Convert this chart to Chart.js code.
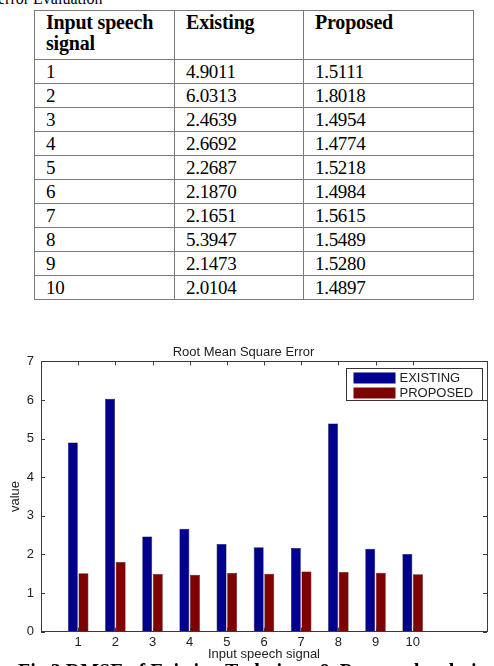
<!DOCTYPE html>
<html>
<head>
<meta charset="utf-8">
<script src="https://cdn.jsdelivr.net/npm/chart.js@4"></script>
<style>
    html, body { margin: 0; padding: 0; background: #fff; }
    body { width: 494px; height: 666px; position: relative; overflow: hidden; }
    .top-note { position: absolute; left: -2px; top: -10px; font: 16px "Liberation Serif", serif; line-height: 18px; white-space: nowrap; }
    table { position: absolute; left: 34px; top: 10px; width: 440px; border-collapse: collapse; font-family: "Liberation Serif", serif; }
    td, th { border: 1.5px solid #7a7a7a; text-align: left; padding: 0 0 0 11px; }
    th { font-size: 20px; font-weight: bold; line-height: 21px; height: 47px; vertical-align: top; padding-top: 1px; letter-spacing: -0.2px; }
    td { font-size: 19px; height: 23px; line-height: 23px; letter-spacing: -0.3px; }
    .c1 { width: 128px; } .c2 { width: 117px; }
    #wrap { position: absolute; left: 0; top: 330px; width: 494px; height: 336px; }
    .caption { position: absolute; left: 18px; top: 661px; font: bold 20px "Liberation Serif", serif; line-height: 20px; white-space: nowrap; }
</style>
</head>
<body>
<div class="top-note">error Evaluation</div>
<table id="tbl"></table>
<div id="wrap"><canvas id="rmse"></canvas></div>
<div class="caption">Fig 3 RMSE of Existing Technique &amp; Proposed technique for different</div>
<script>
const signals = [1, 2, 3, 4, 5, 6, 7, 8, 9, 10]
const existing = [4.9011, 6.0313, 2.4639, 2.6692, 2.2687, 2.1870, 2.1651, 5.3947, 2.1473, 2.0104]
const proposed = [1.5111, 1.8018, 1.4954, 1.4774, 1.5218, 1.4984, 1.5615, 1.5489, 1.5280, 1.4897]
const yTicks = [0, 1, 2, 3, 4, 5, 6, 7]
const tableHead = ['Input speech signal', 'Existing', 'Proposed']

// table
let tbl = document.getElementById('tbl')
let html = '<tr><th class="c1">Input speech<br>signal</th><th class="c2">' + tableHead[1] + '</th><th>' + tableHead[2] + '</th></tr>'
signals.forEach((s, i) => {
    html += '<tr><td>' + s + '</td><td>' + existing[i].toFixed(4) + '</td><td>' + proposed[i].toFixed(4) + '</td></tr>'
})
tbl.innerHTML = html

const axisColor = '#3a3a3a'
const font = { family: 'Liberation Sans, Arial, sans-serif', size: 13 }

// matlab style box, inward ticks, legend inside the axes
const matlabAxes = {
    id: 'matlabAxes',
    afterDraw(chart) {
        let { ctx, chartArea: a, scales } = chart
        ctx.save()
        ctx.strokeStyle = axisColor
        ctx.lineWidth = 1
        ctx.strokeRect(Math.round(a.left) + 0.5, Math.round(a.top) + 0.5, Math.round(a.right - a.left), Math.round(a.bottom - a.top))
        ctx.beginPath()
        signals.forEach((v) => {
            let x = Math.round(scales.x.getPixelForValue(v)) + 0.5
            ctx.moveTo(x, a.bottom); ctx.lineTo(x, a.bottom - 4)
            ctx.moveTo(x, a.top); ctx.lineTo(x, a.top + 4)
        })
        yTicks.forEach((v) => {
            let y = Math.round(scales.y.getPixelForValue(v)) + 0.5
            ctx.moveTo(a.left, y); ctx.lineTo(a.left + 4, y)
            ctx.moveTo(a.right, y); ctx.lineTo(a.right - 4, y)
        })
        ctx.stroke()

        // legend
        let bx = 346.5, by = 38.5, bw = 136, bh = 32
        ctx.fillStyle = '#fff'
        ctx.fillRect(bx, by, bw, bh)
        ctx.strokeStyle = '#333'
        ctx.strokeRect(bx, by, bw, bh)
        ctx.font = '13px Liberation Sans, Arial, sans-serif'
        ctx.textBaseline = 'middle'
        chart.data.datasets.forEach((ds, i) => {
            let sy = by + 4 + i * 15
            ctx.fillStyle = ds.backgroundColor
            ctx.fillRect(bx + 7, sy, 42, 11)
            ctx.fillStyle = '#222'
            ctx.fillText(ds.label, bx + 53, sy + 6)
        })
        ctx.restore()
    }
}

new Chart(document.getElementById('rmse'), {
    type: 'bar',
    data: {
        labels: signals,
        datasets: [
            { label: 'EXISTING', data: existing, backgroundColor: '#00008c', borderColor: '#000040', borderWidth: 0.5 },
            { label: 'PROPOSED', data: proposed, backgroundColor: '#7e0000', borderColor: '#300000', borderWidth: 0.5 }
        ]
    },
    options: {
        responsive: true,
        maintainAspectRatio: false,
        animation: false,
        datasets: { bar: { categoryPercentage: 0.57, barPercentage: 0.94 } },
        layout: { padding: { left: 0, right: 7, top: 0, bottom: 0 } },
        plugins: {
            legend: { display: false },
            tooltip: { enabled: false },
            title: {
                display: true,
                text: 'Root Mean Square Error',
                color: '#222',
                font: { ...font, weight: 'normal' },
                padding: { top: 14.2, bottom: 1.6 }
            }
        },
        scales: {
            x: {
                type: 'linear',
                min: 0,
                max: 12,
                offset: false,
                grid: { display: false, drawTicks: false },
                border: { display: false },
                afterBuildTicks: (scale) => { scale.ticks = signals.map((v) => ({ value: v })) },
                afterFit: (scale) => { scale.height = 34.3 },
                ticks: { color: '#222', font: font, padding: 3, maxRotation: 0, autoSkip: false, callback: (v) => String(v) },
                title: { display: true, text: 'Input speech signal', color: '#222', font: font, padding: { top: 0, bottom: 4.2 } }
            },
            y: {
                min: 0,
                max: 7,
                grid: { display: false, drawTicks: false },
                border: { display: false },
                afterBuildTicks: (scale) => { scale.ticks = yTicks.map((v) => ({ value: v })) },
                afterFit: (scale) => { scale.width = 41 },
                ticks: { color: '#222', font: font, padding: 7 },
                title: { display: true, text: 'value', color: '#222', font: font, padding: { top: 7.2, bottom: 0 } }
            }
        }
    },
    plugins: [matlabAxes]
})
</script>
</body>
</html>
